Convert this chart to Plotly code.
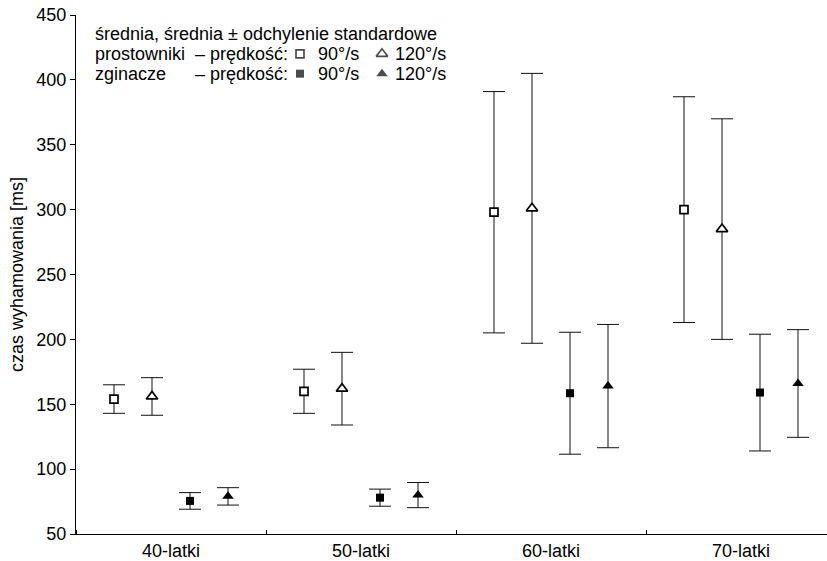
import plotly.graph_objects as go

groups = ["40-latki", "50-latki", "60-latki", "70-latki"]
ext90_mean = [154, 160, 298, 300]
ext90_sd = [11, 17, 93, 87]
ext120_mean = [156, 162, 301, 285]
ext120_sd = [14.5, 28, 104, 85]
flex90_mean = [75.5, 78, 158.5, 159]
flex90_sd = [6.4, 6.6, 47, 45]
flex120_mean = [79, 80, 164, 166]
flex120_sd = [6.7, 9.7, 47.5, 41.5]

y_ticks = [50, 100, 150, 200, 250, 300, 350, 400, 450]

FONT = "Liberation Sans, Arial, sans-serif"
FS = 18

series = [
    (ext90_mean, ext90_sd, -0.3, "square", "white"),
    (ext120_mean, ext120_sd, -0.1, "triangle-up", "white"),
    (flex90_mean, flex90_sd, 0.1, "square", "black"),
    (flex120_mean, flex120_sd, 0.3, "triangle-up", "black"),
]

SQ, TR = 8, 10

fig = go.Figure()
for mean, sd, off, sym, fill in series:
    xs = [i + off for i in range(len(groups))]
    size = SQ if sym == "square" else TR
    fig.add_trace(go.Scatter(
        x=xs, y=mean, mode="markers",
        marker=dict(symbol=sym, size=size, color=fill,
                    line=dict(color="black", width=1.7 if fill == "white" else 0)),
        error_y=dict(type="data", array=sd, visible=True, color="#111111",
                     thickness=1, width=11),
        showlegend=False, cliponaxis=False,
    ))

# legend markers on helper axes (paper-like 0..1 coordinates)
W, H = 827, 561
L, R, T, B = 76, 0, 15, 24
pw, ph = W - L - R, H - T - B

def px(xp):
    return (xp - L) / pw

def py(yp):
    return (H - B - yp) / ph

leg_rows = [54, 74]
leg_sq_x = 300
leg_tri_x = 382
for row, fill in zip(leg_rows, ["white", "black"]):
    fig.add_trace(go.Scatter(
        x=[px(leg_sq_x), px(leg_tri_x)], y=[py(row), py(row)],
        xaxis="x2", yaxis="y2", mode="markers",
        marker=dict(symbol=["square", "triangle-up"], size=[SQ, TR], color=fill,
                    line=dict(color="black", width=1.7 if fill == "white" else 0)),
        showlegend=False, cliponaxis=False, hoverinfo="skip",
    ))

ann = []
def text(x, y, s):
    ann.append(dict(x=px(x), y=py(y), xref="paper", yref="paper", text=s,
                    showarrow=False, xanchor="left", yanchor="middle",
                    font=dict(family=FONT, size=FS, color="black")))

text(93, 34, "średnia, średnia ± odchylenie standardowe")
text(93, 54, "prostowniki")
text(93, 74, "zginacze")
text(193, 54, "– prędkość:")
text(193, 74, "– prędkość:")
text(316, 54, "90°/s")
text(316, 74, "90°/s")
text(393, 54, "120°/s")
text(393, 74, "120°/s")

fig.update_layout(
    width=W, height=H,
    margin=dict(l=L, r=R, t=T, b=B, pad=0),
    paper_bgcolor="white", plot_bgcolor="white",
    font=dict(family=FONT, size=FS, color="black"),
    annotations=ann,
    xaxis=dict(
        range=[-0.5, -0.5 + pw / 190.0],
        tickvals=list(range(len(groups))), ticktext=groups,
        ticks="", showgrid=False, zeroline=False,
        showline=True, linecolor="black", linewidth=1,
        tickfont=dict(family=FONT, size=FS),
        minor=dict(tick0=0.5, dtick=1, ticks="inside", ticklen=4,
                   tickcolor="black", tickwidth=1, showgrid=False),
        fixedrange=True,
    ),
    yaxis=dict(
        range=[50, 450], tickvals=y_ticks,
        ticks="outside", ticklen=5, tickcolor="black", tickwidth=1,
        showgrid=False, zeroline=False,
        showline=True, linecolor="black", linewidth=1,
        tickfont=dict(family=FONT, size=FS),
        title=dict(text="czas wyhamowania [ms]", font=dict(family=FONT, size=FS),
                   standoff=8),
        automargin=False,
    ),
    xaxis2=dict(range=[0, 1], domain=[0, 1], overlaying="x", visible=False,
                fixedrange=True),
    yaxis2=dict(range=[0, 1], domain=[0, 1], overlaying="y", visible=False,
                fixedrange=True),
)

fig.write_html("out.html")
